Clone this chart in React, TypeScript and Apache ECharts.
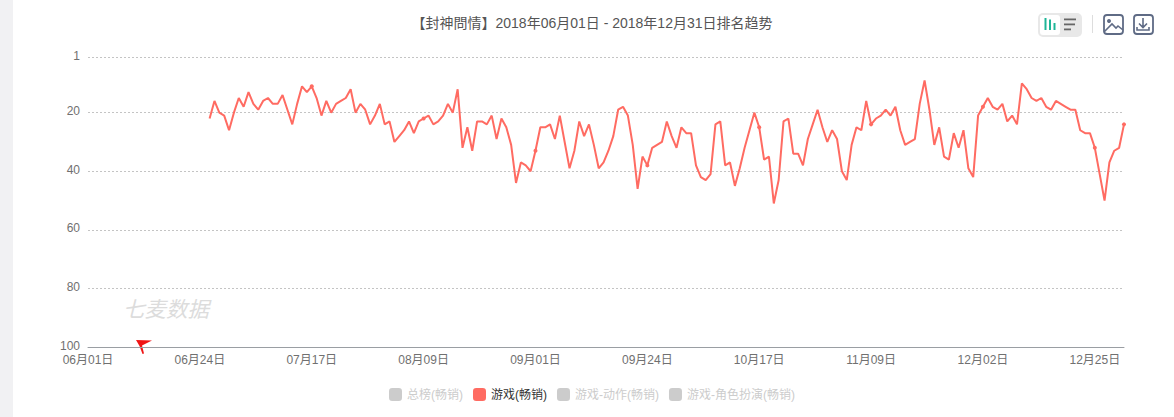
import React, { useEffect, useRef } from "react";
import * as echarts from "echarts";

const monthNames = ["06", "07", "08", "09", "10", "11", "12"];
const monthLengths = [30, 31, 31, 30, 31, 30, 31];
const categories: string[] = [];
monthNames.forEach((m, i) => {
  for (let d = 1; d <= monthLengths[i]; d++) {
    categories.push(`${m}月${String(d).padStart(2, "0")}日`);
  }
});

const leadingEmptyDays = 25;
const gameRanks = [
  22, 16, 20, 21, 26, 20, 15, 18, 13, 17, 19, 16, 15, 17, 17, 14, 19, 24, 17, 11,
  13, 11, 15, 21, 16, 20, 17, 16, 15, 12, 20, 17, 19, 24, 21, 17, 24, 23, 30, 28,
  26, 23, 27, 23, 22, 21, 24, 23, 21, 17, 20, 12, 32, 25, 33, 23, 23, 24, 21, 29,
  22, 25, 31, 44, 37, 38, 40, 33, 25, 25, 24, 29, 21, 30, 39, 33, 23, 28, 24, 31,
  39, 37, 33, 28, 19, 18, 21, 31, 46, 35, 38, 32, 31, 30, 23, 28, 32, 25, 27, 27,
  38, 42, 43, 41, 24, 23, 38, 37, 45, 39, 32, 26, 20, 25, 36, 35, 51, 43, 23, 22,
  34, 34, 38, 29, 24, 19, 25, 30, 26, 29, 40, 43, 31, 25, 26, 16, 24, 22, 21, 19,
  21, 18, 26, 31, 30, 29, 17, 9, 19, 31, 25, 35, 36, 27, 32, 26, 39, 42, 21, 18,
  15, 18, 19, 17, 23, 21, 24, 10, 12, 15, 16, 15, 18, 19, 16, 17, 18, 19, 19, 26,
  27, 27, 32, 41, 50, 37, 33, 32, 24,
];
const seriesNames = ["总榜(畅销)", "游戏(畅销)", "游戏-动作(畅销)", "游戏-角色扮演(畅销)"];
const activeSeries = "游戏(畅销)";
const titleText = "【封神問情】2018年06月01日 - 2018年12月31日排名趋势";
const watermark = "七麦数据";

const FONT = '"Liberation Sans", "Noto Sans CJK SC", sans-serif';
const LINE = "#ff6b62";
const ICON = "#5f6b85";

echarts.graphic.registerShape(
  "flagMark",
  echarts.graphic.extendPath("M136 340 L152 340.5 L142 345.5 L144 353.5 L142.5 354 L139.5 346 Z", {})
);
echarts.graphic.registerShape(
  "photoHills",
  echarts.graphic.extendPath("M1104 32 L1112 24 L1116 28 L1118 26 L1123 30", {})
);
echarts.graphic.registerShape(
  "downloadArrow",
  echarts.graphic.extendPath("M1143 18 L1143 27 M1139 23.5 L1143 27.5 L1147 23.5 M1137 27 L1137 30 L1149 30 L1149 27", {})
);

export default function App() {
  const ref = useRef<HTMLDivElement>(null);
  useEffect(() => {
    document.body.style.margin = "0";
    const chart = echarts.init(ref.current!, undefined, { renderer: "svg" });
    const rect = (x: number, y: number, w: number, h: number, fill: string, r = 0) => ({
      type: "rect",
      shape: { x, y, width: w, height: h, r },
      style: { fill },
      silent: true,
    });
    const selected: Record<string, boolean> = {};
    seriesNames.forEach((n) => (selected[n] = n === activeSeries));
    chart.setOption({
      animation: false,
      backgroundColor: "#ffffff",
      textStyle: { fontFamily: FONT },
      title: {
        text: titleText,
        left: 587,
        top: 11,
        textAlign: "center",
        textStyle: { fontSize: 14, fontWeight: "normal", color: "#555555", fontFamily: FONT },
      },
      grid: { left: 88, right: 50, top: 57, bottom: 70, containLabel: false },
      legend: {
        data: seriesNames,
        selected,
        left: 384,
        top: 383,
        itemWidth: 13,
        itemHeight: 13,
        itemGap: 10,
        icon: "roundRect",
        inactiveColor: "#cccccc",
        textStyle: { fontSize: 12, color: "#333333", fontFamily: FONT },
      },
      xAxis: {
        type: "category",
        boundaryGap: false,
        data: categories,
        axisTick: { show: false },
        axisLine: { lineStyle: { color: "#9a9ea3", width: 1 } },
        axisLabel: { interval: 22, color: "#707070", fontSize: 12, margin: 7, fontFamily: FONT },
        splitLine: { show: false },
      },
      yAxis: {
        type: "value",
        inverse: true,
        min: 1,
        max: 100,
        axisLine: { show: false },
        axisTick: { show: false },
        axisLabel: {
          color: "#707070",
          fontSize: 12,
          margin: 8,
          fontFamily: FONT,
          formatter: "{t|{value}}",
          rich: { t: { color: "#707070", fontSize: 12, fontFamily: FONT, padding: [0, 0, 3, 0] } },
        },
        splitLine: { lineStyle: { color: "#c4c4c4", type: [2, 2], width: 1 } },
      },
      series: seriesNames.map((name) => ({
        name,
        type: "line",
        color: LINE,
        data:
          name === activeSeries
            ? [...Array(leadingEmptyDays).fill(null), ...gameRanks]
            : [],
        showSymbol: name === activeSeries,
        showAllSymbol: true,
        symbol: "circle",
        symbolSize: (_: unknown, p: { dataIndex: number }) =>
          p.dataIndex % 23 === 0 || p.dataIndex === categories.length - 1 ? 4 : 0,
        lineStyle: { width: 2, color: LINE },
        itemStyle: { color: LINE },
      })),
      graphic: [
        rect(0, 0, 13, 417, "#f1f1f3"),
        {
          type: "text",
          x: 123,
          y: 297,
          silent: true,
          style: {
            text: watermark,
            fill: "#dcdcdc",
            fontSize: 21.5,
            fontStyle: "italic",
            fontFamily: '"Noto Sans CJK SC", sans-serif',
          },
        },
        { type: "flagMark", silent: true, style: { fill: "#f01414" } },
        rect(1038, 13, 44, 24, "#e8e8e8", 5),
        rect(1040, 15, 20, 20, "#ffffff", 3),
        rect(1044.5, 18, 2, 12, "#1fb597"),
        rect(1049, 19.5, 2, 10.5, "#1fb597"),
        rect(1053.5, 23, 2, 7, "#1fb597"),
        rect(1064, 18.5, 12, 1.8, "#666666"),
        rect(1064, 23.5, 11, 1.8, "#666666"),
        rect(1064, 28.5, 7, 1.8, "#666666"),
        rect(1092, 15, 1, 18, "#dddddd"),
        {
          type: "rect",
          shape: { x: 1104, y: 15, width: 19, height: 19, r: 3 },
          style: { fill: "none", stroke: ICON, lineWidth: 1.8 },
          silent: true,
        },
        { type: "circle", shape: { cx: 1109, cy: 21, r: 2 }, style: { fill: ICON }, silent: true },
        { type: "photoHills", silent: true, style: { fill: "none", stroke: ICON, lineWidth: 1.6 } },
        {
          type: "rect",
          shape: { x: 1134, y: 15, width: 19, height: 19, r: 3 },
          style: { fill: "none", stroke: ICON, lineWidth: 1.8 },
          silent: true,
        },
        { type: "downloadArrow", silent: true, style: { fill: "none", stroke: ICON, lineWidth: 1.6 } },
      ],
    });
    return () => chart.dispose();
  }, []);
  return <div ref={ref} style={{ width: 1174, height: 417 }} />;
}
